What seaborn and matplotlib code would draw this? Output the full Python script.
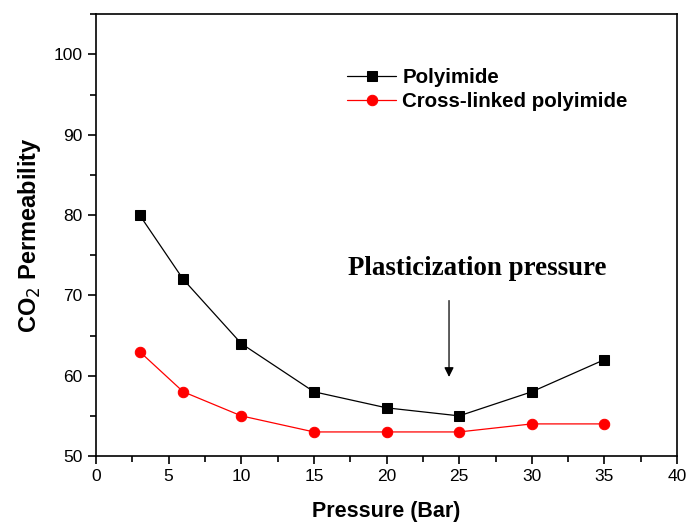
import matplotlib
matplotlib.use('Agg')
import matplotlib.pyplot as plt
import seaborn as sns
import pandas as pd
from matplotlib.ticker import MultipleLocator

pressure = [3, 6, 10, 15, 20, 25, 30, 35]
polyimide = [80, 72, 64, 58, 56, 55, 58, 62]
crosslinked = [63, 58, 55, 53, 53, 53, 54, 54]

sns.set_style('ticks')
plt.rcParams['font.family'] = ['Liberation Sans', 'DejaVu Sans']
plt.rcParams['text.color'] = 'black'
plt.rcParams['axes.labelcolor'] = 'black'
plt.rcParams['xtick.color'] = 'black'
plt.rcParams['ytick.color'] = 'black'
plt.rcParams['axes.edgecolor'] = 'black'

fig = plt.figure(figsize=(6.86, 5.26), dpi=100)
ax = fig.add_axes([0.14, 0.133, 0.847, 0.84])

df1 = pd.DataFrame({'Pressure': pressure, 'Perm': polyimide})
df2 = pd.DataFrame({'Pressure': pressure, 'Perm': crosslinked})
sns.lineplot(data=df1, x='Pressure', y='Perm', ax=ax, color='black', lw=0.9,
             marker='s', markersize=6.5, markeredgecolor='black', label='Polyimide')
sns.lineplot(data=df2, x='Pressure', y='Perm', ax=ax, color='red', lw=0.9,
             marker='o', markersize=7.5, markeredgecolor='red', label='Cross-linked polyimide')

ax.set_xlim(0, 40)
ax.set_ylim(50, 105)
ax.xaxis.set_major_locator(MultipleLocator(5))
ax.xaxis.set_minor_locator(MultipleLocator(2.5))
ax.yaxis.set_major_locator(MultipleLocator(10))
ax.yaxis.set_minor_locator(MultipleLocator(5))
ax.tick_params(which='major', direction='out', length=6, width=1.2, labelsize=12.5)
ax.tick_params(which='minor', direction='out', length=4, width=1.2)
for s in ax.spines.values():
    s.set_linewidth(1.2)

ax.set_xlabel('Pressure (Bar)', fontsize=15.5, fontweight='bold', labelpad=12)
ax.set_ylabel('CO$_2$ Permeability', fontsize=17, fontweight='bold', labelpad=8)

ax.annotate('', xy=(24.3, 59.5), xytext=(24.3, 69.7),
            arrowprops=dict(arrowstyle='-|>', color='black', lw=0.9, mutation_scale=14))
ax.text(26.25, 73.3, 'Plasticization pressure', ha='center', va='center',
        fontsize=19.4, fontweight='bold', family='Liberation Serif')

ax.legend(loc='upper left', bbox_to_anchor=(0.40, 0.92), frameon=False,
          prop={'weight': 'bold', 'size': 14.8}, handlelength=2.4,
          labelspacing=0.25, handletextpad=0.3)

fig.savefig('out.png', dpi=100)
